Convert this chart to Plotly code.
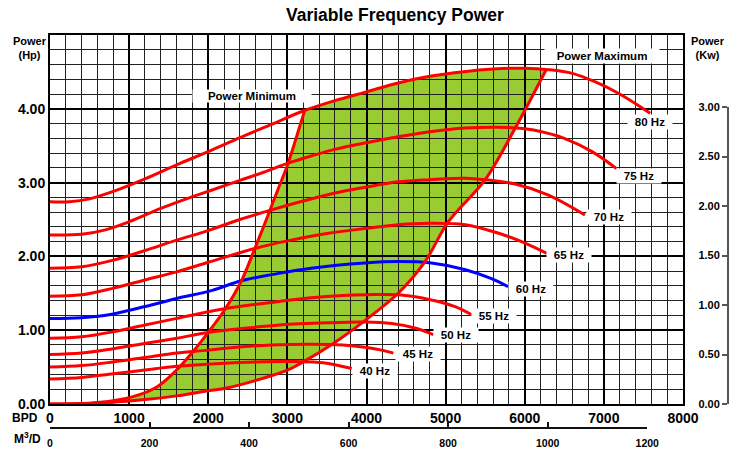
import plotly.graph_objects as go

# ---------------- data ----------------
hz80_bpd = [0, 250, 500, 800, 1200, 1600, 2000, 2400, 2800, 3200, 3600, 4000, 4400, 4800, 5200, 5600, 6000, 6300, 6600, 6900, 7200, 7585]
hz80_hp = [2.74, 2.74, 2.78, 2.88, 3.05, 3.24, 3.42, 3.61, 3.79, 3.97, 4.11, 4.23, 4.35, 4.44, 4.50, 4.54, 4.55, 4.53, 4.48, 4.36, 4.20, 3.94]

hz75_bpd = [0, 400, 700, 1000, 1400, 1750, 2050, 2400, 2700, 3000, 3300, 3600, 4000, 4400, 4800, 5250, 5650, 5900, 6170, 6500, 6850, 7160]
hz75_hp = [2.29, 2.30, 2.36, 2.47, 2.65, 2.79, 2.90, 3.03, 3.14, 3.26, 3.36, 3.45, 3.54, 3.62, 3.69, 3.74, 3.75, 3.74, 3.70, 3.60, 3.42, 3.19]

hz70_bpd = [0, 400, 800, 1200, 1600, 2000, 2400, 2800, 3200, 3600, 4000, 4400, 4800, 5250, 5500, 5880, 6300, 6760]
hz70_hp = [1.84, 1.86, 1.95, 2.08, 2.22, 2.35, 2.50, 2.63, 2.75, 2.86, 2.94, 3.01, 3.04, 3.06, 3.04, 2.98, 2.83, 2.56]

hz65_bpd = [0, 400, 800, 1200, 1600, 2000, 2600, 3000, 3500, 4000, 4400, 4800, 5250, 5650, 5960, 6280]
hz65_hp = [1.46, 1.48, 1.57, 1.68, 1.79, 1.92, 2.11, 2.21, 2.31, 2.38, 2.43, 2.45, 2.43, 2.32, 2.20, 2.04]

hz60_bpd = [0, 400, 800, 1200, 1600, 2050, 2420, 2890, 3300, 3980, 4400, 4820, 5250, 5580, 5790]
hz60_hp = [1.16, 1.17, 1.22, 1.32, 1.43, 1.54, 1.67, 1.77, 1.84, 1.91, 1.93, 1.91, 1.82, 1.70, 1.59]

hz55_bpd = [0, 400, 800, 1200, 1600, 2200, 2900, 3300, 3700, 4000, 4400, 4820, 5120, 5330]
hz55_hp = [0.89, 0.91, 0.98, 1.07, 1.16, 1.29, 1.39, 1.44, 1.47, 1.48, 1.48, 1.41, 1.32, 1.21]

hz50_bpd = [0, 400, 800, 1200, 1600, 2000, 2500, 2900, 3500, 3980, 4320, 4610, 4845]
hz50_hp = [0.67, 0.69, 0.75, 0.82, 0.89, 0.97, 1.03, 1.07, 1.10, 1.11, 1.09, 1.03, 0.94]

hz45_bpd = [0, 400, 800, 1200, 1600, 2000, 2250, 2800, 3300, 3700, 3980, 4190, 4340]
hz45_hp = [0.50, 0.52, 0.57, 0.63, 0.69, 0.73, 0.76, 0.80, 0.81, 0.80, 0.77, 0.73, 0.69]

hz40_bpd = [0, 400, 800, 1200, 1600, 2150, 2600, 3100, 3450, 3813]
hz40_hp = [0.34, 0.36, 0.41, 0.46, 0.51, 0.55, 0.57, 0.575, 0.56, 0.48]

min_bpd = [0, 600, 1050, 1350, 1600, 1800, 2000, 2210, 2420, 2590, 2720, 2860, 3005, 3110, 3217]
min_hp = [0, 0.02, 0.10, 0.23, 0.46, 0.70, 0.97, 1.28, 1.67, 2.11, 2.46, 2.85, 3.25, 3.60, 3.97]

max_bpd = [0, 600, 1200, 1600, 2000, 2250, 2570, 3000, 3200, 3580, 3980, 4400, 4740, 5035, 5500, 5880, 6270]
max_hp = [0, 0.01, 0.06, 0.11, 0.18, 0.22, 0.31, 0.46, 0.57, 0.82, 1.13, 1.50, 1.93, 2.47, 3.04, 3.74, 4.53]

bpd_ticks = [0, 1000, 2000, 3000, 4000, 5000, 6000, 7000, 8000]
hp_ticks = [0, 1, 2, 3, 4]
kw_ticks = [0, 0.5, 1.0, 1.5, 2.0, 2.5, 3.0]
m3_ticks = [0, 200, 400, 600, 800, 1000, 1200]

BPD_PER_M3 = 6.2898
KW_PER_HP = 0.7457

hz_labels = ["80 Hz", "75 Hz", "70 Hz", "65 Hz", "60 Hz", "55 Hz", "50 Hz", "45 Hz", "40 Hz"]
hz_label_x = [7583, 7444, 7065, 6559, 6079, 5611, 5125, 4645, 4107]
hz_label_y = [3.825, 3.09, 2.54, 2.02, 1.565, 1.19, 0.935, 0.68, 0.45]

# ---------------- layout geometry ----------------
W, H = 754, 455
L, R, T, B = 50, 20, 35, 5
PW, PH = W - L - R, H - T - B
X_END = (683 - L) / PW
Y_START = (H - B - 404) / PH
XMAX, YMAX = 8000, 5.0
KW_POS = (728 - L) / PW
M3_POS = (H - B - 428) / PH

# secondary scales expressed through the unit conversions
kw_top_frac = Y_START + (1 - Y_START) * (kw_ticks[-1] / KW_PER_HP) / YMAX
m3_end_frac = X_END * (m3_ticks[-1] * BPD_PER_M3) / XMAX

FONT = "Liberation Sans, Arial, sans-serif"
RED = "#ff0000"

fig = go.Figure()

curves = [
    (hz80_bpd, hz80_hp, RED), (hz75_bpd, hz75_hp, RED), (hz70_bpd, hz70_hp, RED),
    (hz65_bpd, hz65_hp, RED), (hz60_bpd, hz60_hp, "#0000ff"), (hz55_bpd, hz55_hp, RED),
    (hz50_bpd, hz50_hp, RED), (hz45_bpd, hz45_hp, RED), (hz40_bpd, hz40_hp, RED),
    (min_bpd, min_hp, RED), (max_bpd, max_hp, RED),
]
for xs, ys, col in curves:
    fig.add_trace(go.Scatter(x=xs, y=ys, mode="lines",
                             line=dict(color=col, width=3, shape="spline", smoothing=1.0),
                             hoverinfo="skip", showlegend=False))

# helper traces so the secondary (Kw and M3/D) axes are drawn
fig.add_trace(go.Scatter(x=[0], y=[0], xaxis="x3", yaxis="y2", mode="markers",
                         marker=dict(opacity=0), hoverinfo="skip", showlegend=False))
fig.add_trace(go.Scatter(x=[0], y=[0], xaxis="x2", yaxis="y3", mode="markers",
                         marker=dict(opacity=0), hoverinfo="skip", showlegend=False))

# green operating region (below the grid)
pts = list(zip(min_bpd, min_hp))
pts += [(b, h) for b, h in zip(hz80_bpd, hz80_hp) if min_bpd[-1] < b < max_bpd[-1]]
pts += list(zip(max_bpd, max_hp))[::-1]
path = "M " + " L ".join(f"{b},{h}" for b, h in pts) + " Z"

shapes = [
    dict(type="path", path=path, xref="x", yref="y", layer="below",
         fillcolor="#99cc33", line=dict(width=0)),
]

bold = dict(family=FONT, color="black", weight="bold")

annotations = []
for t, x, y in zip(hz_labels, hz_label_x, hz_label_y):
    annotations.append(dict(text=t, x=x, y=y, xref="x", yref="y", showarrow=False,
                            bgcolor="white", width=44, height=14, borderpad=0,
                            font=dict(size=11.5, **bold)))
annotations += [
    dict(text="Power Minimum", x=2559, y=4.173, xref="x", yref="y", showarrow=False,
         bgcolor="white", width=118, height=12, borderpad=0, font=dict(size=11.5, **bold)),
    dict(text="Power Maximum", x=6970, y=4.722, xref="x", yref="y", showarrow=False,
         bgcolor="white", width=114, height=14, borderpad=0, font=dict(size=11.5, **bold)),
    dict(text="Variable Frequency Power", x=(394.5 - L) / PW, y=(H - B - 15) / PH,
         xref="paper", yref="paper", showarrow=False, xanchor="center", yanchor="middle",
         font=dict(size=17.5, **bold)),
    dict(text="Power<br>(Hp)", x=(30 - L) / PW, y=(H - B - 48) / PH, xref="paper", yref="paper",
         showarrow=False, xanchor="center", yanchor="middle", font=dict(size=11, **bold)),
    dict(text="Power<br>(Kw)", x=(708 - L) / PW, y=(H - B - 48) / PH, xref="paper", yref="paper",
         showarrow=False, xanchor="center", yanchor="middle", font=dict(size=11, **bold)),
    dict(text="BPD", x=(25 - L) / PW, y=(H - B - 418) / PH, xref="paper", yref="paper",
         showarrow=False, xanchor="center", yanchor="middle", font=dict(size=12, **bold)),
    dict(text="M<sup>3</sup>/D", x=(27 - L) / PW, y=(H - B - 438) / PH, xref="paper", yref="paper",
         showarrow=False, xanchor="center", yanchor="middle", font=dict(size=12, **bold)),
]

fig.update_layout(
    width=W, height=H,
    margin=dict(l=L, r=R, t=T, b=B, pad=0, autoexpand=False),
    paper_bgcolor="white", plot_bgcolor="rgba(0,0,0,0)",
    showlegend=False,
    shapes=shapes, annotations=annotations,
    xaxis=dict(domain=[0, X_END], range=[0, XMAX], tickvals=bpd_ticks,
               ticktext=[str(v) for v in bpd_ticks], ticks="", automargin=False,
               showgrid=True, gridcolor="black", gridwidth=2, zeroline=False,
               showline=True, linecolor="black", linewidth=2, mirror=True,
               tickfont=dict(size=14, **bold),
               minor=dict(dtick=200, tick0=0, showgrid=True, gridcolor="#222222", gridwidth=1)),
    yaxis=dict(domain=[Y_START, 1], range=[0, YMAX], tickvals=hp_ticks,
               ticktext=[f"{v:.2f}" for v in hp_ticks], ticks="", automargin=False,
               showgrid=True, gridcolor="black", gridwidth=2, zeroline=False,
               showline=True, linecolor="black", linewidth=2, mirror=True,
               tickfont=dict(size=14, **bold),
               minor=dict(dtick=0.2, tick0=0, showgrid=True, gridcolor="#222222", gridwidth=1)),
    # Kw axis: its own short domain (0 .. 3.00 kW) placed right of the plot
    yaxis2=dict(domain=[Y_START, kw_top_frac], anchor="free", position=KW_POS, side="left",
                range=[0, kw_ticks[-1]], tickvals=kw_ticks, automargin=False,
                ticktext=[f"{v:.2f}" for v in kw_ticks], ticks="outside", ticklen=5,
                tickcolor="#555555", tickwidth=1.5, showgrid=False,
                showline=True, linecolor="#555555", linewidth=2,
                zeroline=False, tickfont=dict(size=11, **bold)),
    xaxis3=dict(domain=[0.996, 1.0], range=[0, 1], visible=False, anchor="y2"),
    # M3/D axis: its own short domain (0 .. 1200) placed below the BPD labels
    xaxis2=dict(domain=[0, m3_end_frac], anchor="free", position=M3_POS, side="bottom",
                range=[0, m3_ticks[-1]], tickvals=m3_ticks, automargin=False,
                ticktext=[str(v) for v in m3_ticks], ticks="inside", ticklen=5,
                ticklabelstandoff=6,
                tickcolor="#111111", tickwidth=1.5, showgrid=False,
                showline=True, linecolor="#111111", linewidth=1.5,
                zeroline=False, tickfont=dict(size=10.5, **bold)),
    yaxis3=dict(domain=[0, 0.004], range=[0, 1], visible=False, anchor="x2"),
)

fig.write_html("out.html", config={"displayModeBar": False},
               post_script="document.body.style.margin='0px';")
